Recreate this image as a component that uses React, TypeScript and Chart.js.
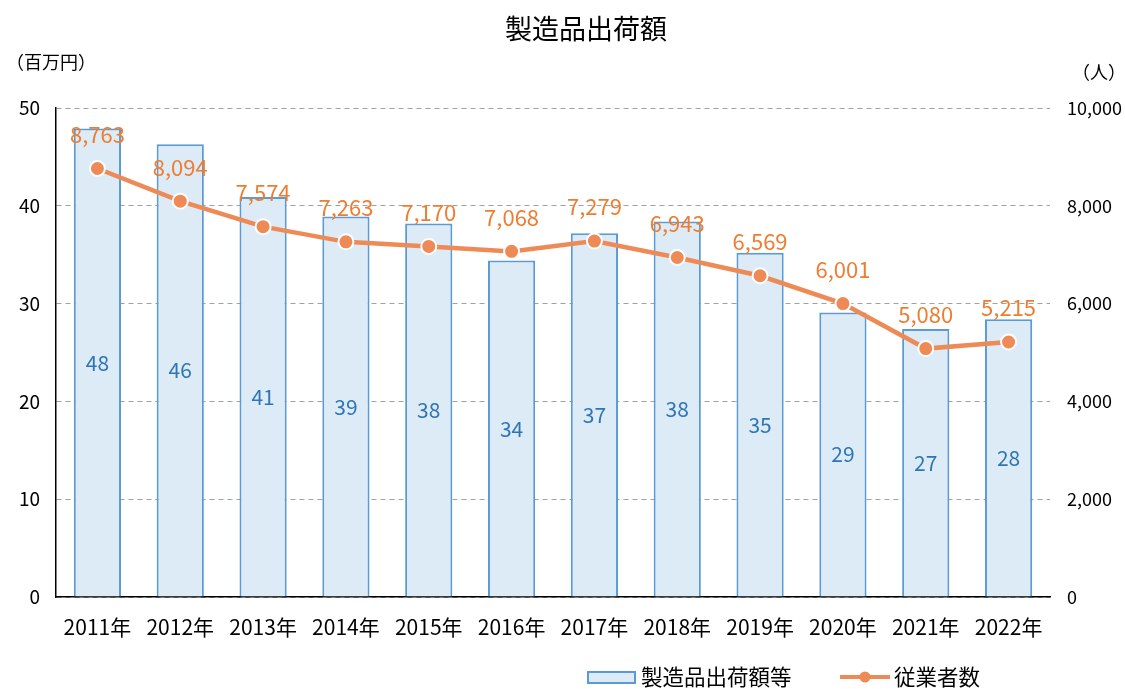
import React, { useEffect, useRef } from 'react';
import { Chart, registerables } from 'chart.js';

Chart.register(...registerables);

const categories = ['2011年', '2012年', '2013年', '2014年', '2015年', '2016年', '2017年', '2018年', '2019年', '2020年', '2021年', '2022年'];
const shipments = [47.9, 46.3, 40.9, 38.9, 38.2, 34.4, 37.2, 38.4, 35.2, 29.1, 27.4, 28.4];
const employees = [8763, 8094, 7574, 7263, 7170, 7068, 7279, 6943, 6569, 6001, 5080, 5215];
const leftTicks = [0, 10, 20, 30, 40, 50];
const rightTicks = [0, 2000, 4000, 6000, 8000, 10000];

const FONT = "'Noto Sans CJK JP', 'Noto Sans', sans-serif";
const BAR_FILL = '#DDEBF7';
const BAR_BORDER = '#5B9BD5';
const BAR_LABEL = '#2E75B6';
const LINE_COLOR = '#EE8A55';
const LINE_LABEL = '#ED7D31';

const labelsPlugin = {
  id: 'customLabels',
  afterDatasetsDraw(chart: any) {
    const ctx = chart.ctx;
    ctx.save();
    const barMeta = chart.getDatasetMeta(1);
    ctx.font = `21px ${FONT}`;
    ctx.fillStyle = BAR_LABEL;
    ctx.textAlign = 'center';
    ctx.textBaseline = 'middle';
    barMeta.data.forEach((el: any, i: number) => {
      const mid = (el.y + el.base) / 2;
      ctx.fillText(String(Math.round(shipments[i])), el.x, mid);
    });
    const lineMeta = chart.getDatasetMeta(0);
    ctx.font = `22px ${FONT}`;
    ctx.fillStyle = LINE_LABEL;
    lineMeta.data.forEach((el: any, i: number) => {
      ctx.fillText(employees[i].toLocaleString('en-US'), el.x, el.y - 34);
    });
    ctx.restore();
  },
  afterDraw(chart: any) {
    const ctx = chart.ctx;
    ctx.save();
    ctx.fillStyle = '#000';
    ctx.font = `27px ${FONT}`;
    ctx.textAlign = 'center';
    ctx.textBaseline = 'middle';
    ctx.fillText('製造品出荷額', 586, 29);
    ctx.font = `18px ${FONT}`;
    ctx.textAlign = 'left';
    ctx.fillText('（百万円）', 6, 62);
    ctx.textAlign = 'right';
    ctx.fillText('（人）', 1126, 72);
    const ly = 677;
    ctx.fillStyle = BAR_FILL;
    ctx.strokeStyle = BAR_BORDER;
    ctx.lineWidth = 2;
    ctx.fillRect(588, ly - 5, 47, 11);
    ctx.strokeRect(588, ly - 5, 47, 11);
    ctx.fillStyle = '#000';
    ctx.font = `21.5px ${FONT}`;
    ctx.textAlign = 'left';
    ctx.textBaseline = 'middle';
    ctx.fillText('製造品出荷額等', 641, ly);
    ctx.strokeStyle = LINE_COLOR;
    ctx.lineWidth = 4;
    ctx.beginPath();
    ctx.moveTo(840, ly);
    ctx.lineTo(890, ly);
    ctx.stroke();
    ctx.fillStyle = LINE_COLOR;
    ctx.beginPath();
    ctx.arc(865, ly, 5.5, 0, Math.PI * 2);
    ctx.fill();
    ctx.fillStyle = '#000';
    ctx.fillText('従業者数', 894, ly);
    ctx.restore();
  },
};

export default function App() {
  const ref = useRef<HTMLCanvasElement | null>(null);
  useEffect(() => {
    document.body.style.margin = '0';
    if (!ref.current) return;
    const chart = new Chart(ref.current, {
      type: 'bar',
      data: {
        labels: categories,
        datasets: [
          {
            type: 'line',
            label: '従業者数',
            data: employees,
            yAxisID: 'y1',
            borderColor: LINE_COLOR,
            backgroundColor: LINE_COLOR,
            borderWidth: 4.5,
            pointRadius: 7.5,
            pointBackgroundColor: LINE_COLOR,
            pointBorderColor: '#FFFFFF',
            pointBorderWidth: 2,
            tension: 0,
            order: 0,
          } as any,
          {
            type: 'bar',
            label: '製造品出荷額等',
            data: shipments,
            yAxisID: 'y',
            backgroundColor: BAR_FILL,
            borderColor: BAR_BORDER,
            borderWidth: 2,
            barPercentage: 0.57,
            categoryPercentage: 1,
            order: 1,
          } as any,
        ],
      },
      options: {
        responsive: false,
        animation: false,
        layout: { padding: { top: 108, left: 0, right: 0, bottom: 0 } },
        plugins: {
          legend: { display: false },
          title: { display: false },
          tooltip: { enabled: false },
        },
        scales: {
          x: {
            grid: { display: false, drawTicks: false },
            border: { display: true, color: '#000', width: 1.5 },
            ticks: { color: '#000', font: { family: FONT, size: 21 }, padding: 17 },
            afterFit: (s: any) => { s.height = 92; },
          },
          y: {
            position: 'left',
            min: 0,
            max: 50,
            afterBuildTicks: (s: any) => { s.ticks = leftTicks.map((v) => ({ value: v })); },
            grid: { color: '#A0A0A0', lineWidth: 1, drawTicks: false },
            border: { display: true, color: '#000', width: 1.5, dash: [5, 4] },
            ticks: { color: '#000', font: { family: FONT, size: 19 }, padding: 16 },
            afterFit: (s: any) => { s.width = 56; },
          },
          y1: {
            position: 'right',
            min: 0,
            max: 10000,
            afterBuildTicks: (s: any) => { s.ticks = rightTicks.map((v) => ({ value: v })); },
            grid: { display: false, drawTicks: false },
            border: { display: false },
            ticks: {
              color: '#000',
              font: { family: FONT, size: 18 },
              padding: 17,
              callback: (v: any) => Number(v).toLocaleString('en-US'),
            },
            afterFit: (s: any) => { s.width = 75; },
          },
        },
      },
      plugins: [labelsPlugin],
    });
    return () => chart.destroy();
  }, []);
  return <canvas ref={ref} width={1125} height={689} style={{ display: 'block' }} />;
}
